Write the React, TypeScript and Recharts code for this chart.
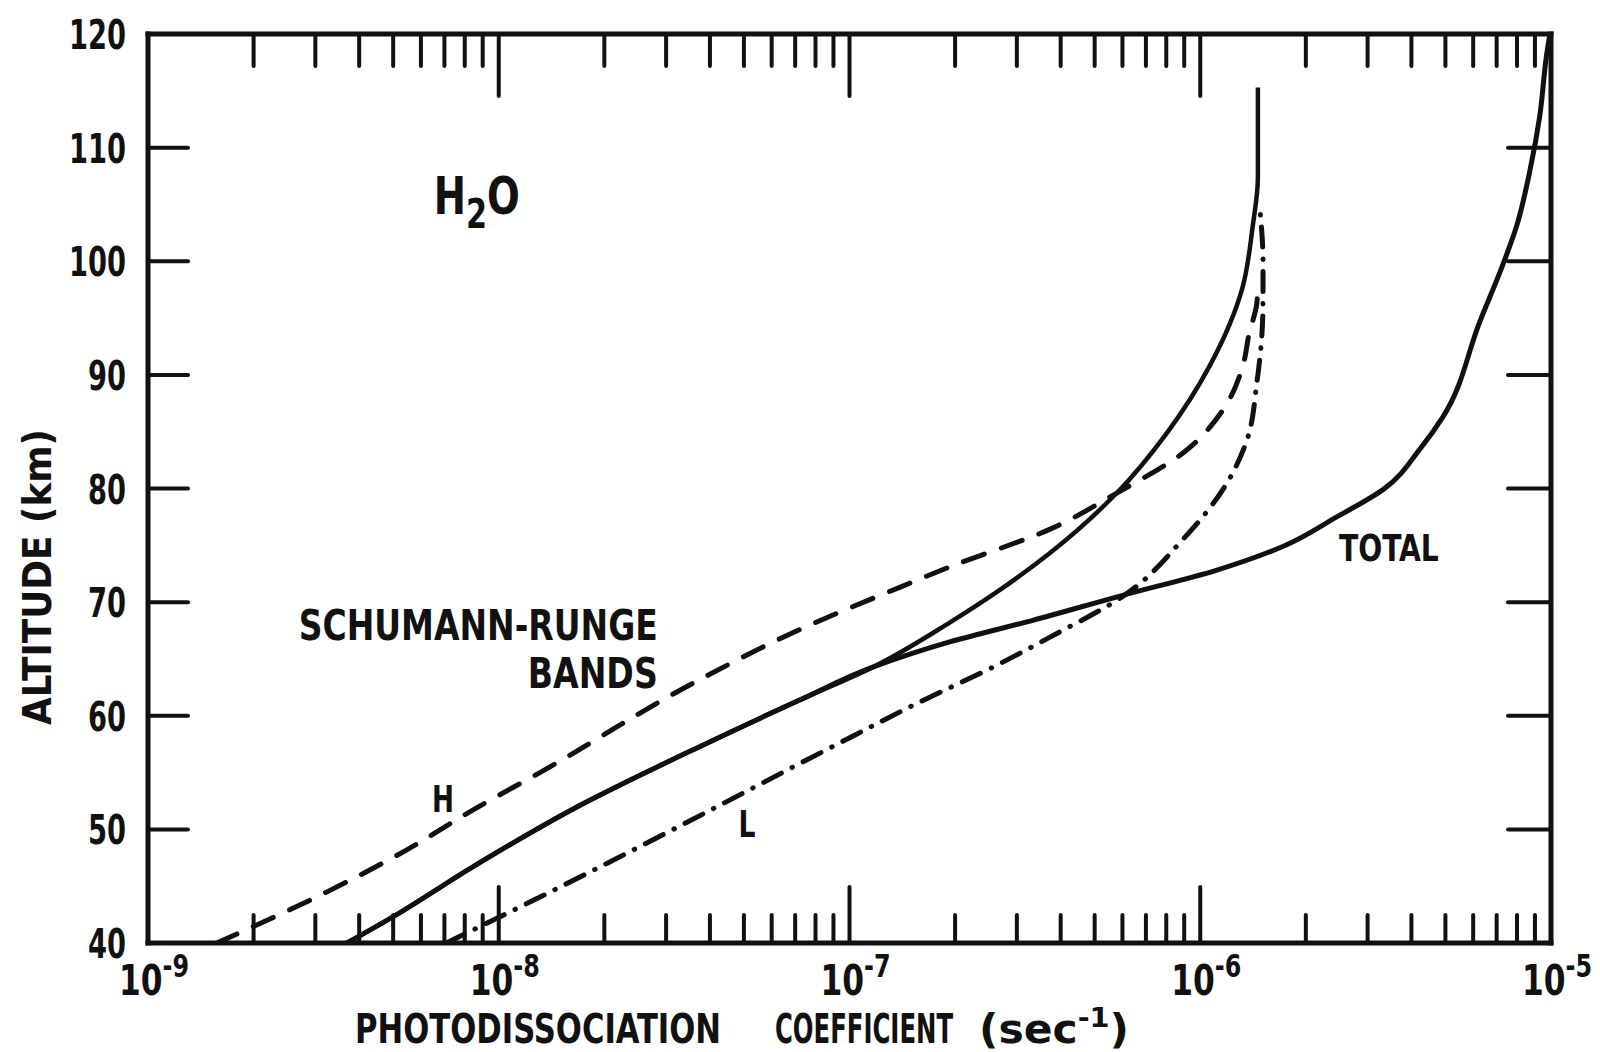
import React from 'react';
import { LineChart, Line, XAxis, YAxis, ReferenceDot } from 'recharts';

const FONT = "'DejaVu Sans Condensed', 'DejaVu Sans', 'Liberation Sans', sans-serif";
const INK = '#111';

// axis ticks
const decadeValues = [1e-9, 1e-8, 1e-7, 1e-6, 1e-5];
const decadeExponentLabels = ['-9', '-8', '-7', '-6', '-5'];
const minorMultipliers = [2, 3, 4, 5, 6, 7, 8, 9];
const altitudeTicks = [40, 50, 60, 70, 80, 90, 100, 110, 120];

// photodissociation coefficient (sec^-1) versus altitude (km)
// solid curve shared by Schumann-Runge bands and total below the split
const sharedLower = [
  { alt: 40, k: 3.69e-9 },
  { alt: 42.3, k: 4.99e-9 },
  { alt: 46.7, k: 8.43e-9 },
  { alt: 51.8, k: 1.63e-8 },
  { alt: 57.3, k: 3.75e-8 },
  { alt: 61.4, k: 7.23e-8 },
  { alt: 64.3, k: 1.17e-7 },
];
const schumannRungeUpper = [
  { alt: 68.2, k: 1.93e-7 },
  { alt: 71.1, k: 2.69e-7 },
  { alt: 74.3, k: 3.72e-7 },
  { alt: 79.6, k: 5.78e-7 },
  { alt: 84.9, k: 8.04e-7 },
  { alt: 90.7, k: 1.06e-6 },
  { alt: 97.7, k: 1.32e-6 },
  { alt: 103.0, k: 1.41e-6 },
  { alt: 107.4, k: 1.46e-6 },
  { alt: 115.3, k: 1.46e-6 },
];
const totalUpper = [
  { alt: 66.5, k: 1.93e-7 },
  { alt: 68.4, k: 3.33e-7 },
  { alt: 70.6, k: 6.01e-7 },
  { alt: 72.8, k: 1.11e-6 },
  { alt: 74.9, k: 1.72e-6 },
  { alt: 77.5, k: 2.45e-6 },
  { alt: 79.9, k: 3.32e-6 },
  { alt: 83.6, k: 4.26e-6 },
  { alt: 86.3, k: 4.92e-6 },
  { alt: 94.7, k: 6.27e-6 },
  { alt: 99.7, k: 7.29e-6 },
  { alt: 103.1, k: 7.98e-6 },
  { alt: 108.0, k: 8.71e-6 },
  { alt: 112.8, k: 9.29e-6 },
  { alt: 118.2, k: 9.72e-6 },
  { alt: 120.0, k: 9.93e-6 },
];
const highCurve = [
  { alt: 40, k: 1.57e-9 },
  { alt: 44.5, k: 3.24e-9 },
  { alt: 48.2, k: 5.47e-9 },
  { alt: 51.7, k: 8.43e-9 },
  { alt: 55.0, k: 1.31e-8 },
  { alt: 63.2, k: 3.75e-8 },
  { alt: 67.6, k: 7.23e-8 },
  { alt: 71.3, k: 1.39e-7 },
  { alt: 73.1, k: 1.93e-7 },
  { alt: 76.4, k: 3.72e-7 },
  { alt: 79.6, k: 5.78e-7 },
  { alt: 83.1, k: 8.91e-7 },
  { alt: 86.9, k: 1.16e-6 },
  { alt: 90.7, k: 1.32e-6 },
  { alt: 93.7, k: 1.38e-6 },
  { alt: 96.3, k: 1.45e-6 },
  { alt: 98.0, k: 1.46e-6 },
];
const lowCurve = [
  { alt: 40, k: 7.08e-9 },
  { alt: 44.9, k: 1.49e-8 },
  { alt: 48.5, k: 2.53e-8 },
  { alt: 57.3, k: 8.97e-8 },
  { alt: 61.1, k: 1.56e-7 },
  { alt: 64.6, k: 2.69e-7 },
  { alt: 66.9, k: 3.72e-7 },
  { alt: 70.5, k: 6.01e-7 },
  { alt: 75.5, k: 8.91e-7 },
  { alt: 79.9, k: 1.16e-6 },
  { alt: 84.3, k: 1.36e-6 },
  { alt: 89.3, k: 1.45e-6 },
  { alt: 93.7, k: 1.5e-6 },
  { alt: 96.6, k: 1.51e-6 },
  { alt: 100.0, k: 1.51e-6 },
  { alt: 104.5, k: 1.48e-6 },
];

const schumannRungeData = [...sharedLower, ...schumannRungeUpper];
const totalData = [...sharedLower, ...totalUpper];

const xTicks = [
  ...decadeValues,
  ...decadeValues.slice(0, decadeValues.length - 1).flatMap((d) => minorMultipliers.map((m) => d * m)),
].sort((a, b) => a - b);

const decadeIndex = (v: number) => decadeValues.findIndex((d) => Math.abs(Math.log10(v / d)) < 1e-6);
const isInnerX = (v: number) => v > decadeValues[0] * 1.01 && v < decadeValues[decadeValues.length - 1] * 0.99;

const BottomTick = (props: any) => {
  const { x, y, payload } = props;
  const v = payload.value;
  const di = decadeIndex(v);
  return (
    <g>
      {isInnerX(v) && (
        <line x1={x} x2={x} y1={y} y2={y - (di >= 0 ? 56 : 28)} stroke={INK} strokeWidth={4} strokeLinecap="round" />
      )}
      {di >= 0 && (
        <text
          x={x + 6}
          y={y + 52}
          textAnchor="middle"
          fontFamily={FONT}
          fontWeight="bold"
          fontSize={42}
          fill={INK}
          textLength={70}
          lengthAdjust="spacingAndGlyphs"
        >
          10
          <tspan dy={-18} fontSize={32}>
            {decadeExponentLabels[di]}
          </tspan>
        </text>
      )}
    </g>
  );
};

const TopTick = (props: any) => {
  const { x, y, payload } = props;
  const v = payload.value;
  const di = decadeIndex(v);
  if (!isInnerX(v)) return <g />;
  return <line x1={x} x2={x} y1={y} y2={y + (di >= 0 ? 62 : 32)} stroke={INK} strokeWidth={4} strokeLinecap="round" />;
};

const LeftTick = (props: any) => {
  const { x, y, payload } = props;
  const v = payload.value;
  const label = String(v);
  const inner = v > altitudeTicks[0] && v < altitudeTicks[altitudeTicks.length - 1];
  return (
    <g>
      {inner && <line x1={x} x2={x + 40} y1={y} y2={y} stroke={INK} strokeWidth={4} strokeLinecap="round" />}
      <text
        x={x - 22}
        y={y + 15}
        textAnchor="end"
        fontFamily={FONT}
        fontWeight="bold"
        fontSize={41}
        fill={INK}
        textLength={19 * label.length}
        lengthAdjust="spacingAndGlyphs"
      >
        {label}
      </text>
    </g>
  );
};

const RightTick = (props: any) => {
  const { x, y, payload } = props;
  const v = payload.value;
  const inner = v > altitudeTicks[0] && v < altitudeTicks[altitudeTicks.length - 1];
  if (!inner) return <g />;
  return <line x1={x} x2={x - 43} y1={y} y2={y} stroke={INK} strokeWidth={4} strokeLinecap="round" />;
};

const YTitle = (p: any) => {
  const vb = p.viewBox || { x: 0, y: 0 };
  const cx = vb.x + 37;
  const cy = vb.y + 543;
  return (
    <text
      x={cx}
      y={cy}
      transform={`rotate(-90 ${cx} ${cy})`}
      textAnchor="middle"
      dominantBaseline="central"
      fontFamily={FONT}
      fontWeight="bold"
      fontSize={39}
      fill={INK}
      textLength={296}
      lengthAdjust="spacingAndGlyphs"
    >
      ALTITUDE  (km)
    </text>
  );
};

const XTitle = (p: any) => {
  const vb = p.viewBox || { x: 0, y: 0 };
  const x0 = vb.x + 207;
  const y0 = vb.y + 100;
  const common = { y: y0, fontFamily: FONT, fontWeight: 'bold' as const, fontSize: 40, fill: INK, lengthAdjust: 'spacingAndGlyphs' };
  return (
    <g>
      <text x={x0} textLength={366} {...common}>PHOTODISSOCIATION</text>
      <text x={x0 + 420} textLength={178} {...common}>COEFFICIENT</text>
      <text x={x0 + 624} textLength={150} {...common}>
        (sec
        <tspan dy={-16} fontSize={27}>-1</tspan>
        <tspan dy={16}>)</tspan>
      </text>
    </g>
  );
};

const textAt = (render: (x: number, y: number) => React.ReactNode) => ({
  content: (p: any) => {
    const vb = p.viewBox || {};
    return render((vb.x ?? 0) + (vb.width ?? 0) / 2, (vb.y ?? 0) + (vb.height ?? 0) / 2);
  },
});

export default function App() {
  return (
    <div style={{ position: 'absolute', left: 0, top: 0, width: 1600, height: 1052, background: '#fff', overflow: 'hidden' }}>
      <LineChart width={1600} height={1052} margin={{ top: 0, right: 0, bottom: 0, left: 0 }}>
        <XAxis
          xAxisId="bottom"
          orientation="bottom"
          dataKey="k"
          type="number"
          scale="log"
          domain={[decadeValues[0], decadeValues[decadeValues.length - 1]]}
          allowDataOverflow
          ticks={xTicks}
          interval={0}
          height={109}
          tickSize={0}
          tickMargin={0}
          tickLine={false}
          tick={<BottomTick />}
          axisLine={{ stroke: INK, strokeWidth: 5, strokeLinecap: 'square' }}
          label={{ content: XTitle }}
        />
        <XAxis
          xAxisId="top"
          orientation="top"
          dataKey="k"
          type="number"
          scale="log"
          domain={[decadeValues[0], decadeValues[decadeValues.length - 1]]}
          allowDataOverflow
          ticks={xTicks}
          interval={0}
          height={34}
          tickSize={0}
          tickMargin={0}
          tickLine={false}
          tick={<TopTick />}
          axisLine={{ stroke: INK, strokeWidth: 5, strokeLinecap: 'square' }}
        />
        <YAxis
          yAxisId="left"
          orientation="left"
          dataKey="alt"
          type="number"
          domain={[altitudeTicks[0], altitudeTicks[altitudeTicks.length - 1]]}
          allowDataOverflow
          ticks={altitudeTicks}
          interval={0}
          width={148}
          tickSize={0}
          tickMargin={0}
          tickLine={false}
          tick={<LeftTick />}
          axisLine={{ stroke: INK, strokeWidth: 5, strokeLinecap: 'square' }}
          label={{ content: YTitle }}
        />
        <YAxis
          yAxisId="right"
          orientation="right"
          dataKey="alt"
          type="number"
          domain={[altitudeTicks[0], altitudeTicks[altitudeTicks.length - 1]]}
          allowDataOverflow
          ticks={altitudeTicks}
          interval={0}
          width={49}
          tickSize={0}
          tickMargin={0}
          tickLine={false}
          tick={<RightTick />}
          axisLine={{ stroke: INK, strokeWidth: 5, strokeLinecap: 'square' }}
        />

        <Line
          xAxisId="bottom"
          yAxisId="left"
          data={highCurve}
          dataKey="alt"
          type="monotoneY"
          stroke={INK}
          strokeWidth={5}
          strokeDasharray="22 18"
          strokeLinecap="round"
          dot={false}
          activeDot={false}
          isAnimationActive={false}
        />
        <Line
          xAxisId="bottom"
          yAxisId="left"
          data={lowCurve}
          dataKey="alt"
          type="monotoneY"
          stroke={INK}
          strokeWidth={5}
          strokeDasharray="20 12 0.5 12"
          strokeLinecap="round"
          dot={false}
          activeDot={false}
          isAnimationActive={false}
        />
        <Line
          xAxisId="bottom"
          yAxisId="left"
          data={schumannRungeData}
          dataKey="alt"
          type="monotoneY"
          stroke={INK}
          strokeWidth={4.5}
          dot={false}
          activeDot={false}
          isAnimationActive={false}
        />
        <Line
          xAxisId="bottom"
          yAxisId="left"
          data={totalData}
          dataKey="alt"
          type="monotoneY"
          stroke={INK}
          strokeWidth={5}
          dot={false}
          activeDot={false}
          isAnimationActive={false}
        />

        <ReferenceDot
          xAxisId="bottom"
          yAxisId="left"
          x={6.53e-9}
          y={104.2}
          r={0}
          ifOverflow="visible"
          label={textAt((x, y) => (
            <text
              x={x}
              y={y}
              fontFamily={FONT}
              fontWeight="bold"
              fontSize={51}
              fill={INK}
              textLength={86}
              lengthAdjust="spacingAndGlyphs"
            >
              H
              <tspan dy={14} fontSize={40}>2</tspan>
              <tspan dy={-14}>O</tspan>
            </text>
          ))}
        />
        <ReferenceDot
          xAxisId="bottom"
          yAxisId="left"
          x={2.84e-8}
          y={66.7}
          r={0}
          ifOverflow="visible"
          label={textAt((x, y) => (
            <text
              x={x}
              y={y}
              textAnchor="end"
              fontFamily={FONT}
              fontWeight="bold"
              fontSize={43}
              fill={INK}
              textLength={359}
              lengthAdjust="spacingAndGlyphs"
            >
              SCHUMANN-RUNGE
            </text>
          ))}
        />
        <ReferenceDot
          xAxisId="bottom"
          yAxisId="left"
          x={2.84e-8}
          y={62.4}
          r={0}
          ifOverflow="visible"
          label={textAt((x, y) => (
            <text
              x={x}
              y={y}
              textAnchor="end"
              fontFamily={FONT}
              fontWeight="bold"
              fontSize={43}
              fill={INK}
              textLength={130}
              lengthAdjust="spacingAndGlyphs"
            >
              BANDS
            </text>
          ))}
        />
        <ReferenceDot
          xAxisId="bottom"
          yAxisId="left"
          x={6.93e-9}
          y={51.5}
          r={0}
          ifOverflow="visible"
          label={textAt((x, y) => (
            <text x={x} y={y} textAnchor="middle" fontFamily={FONT} fontWeight="bold" fontSize={37} fill={INK} textLength={22} lengthAdjust="spacingAndGlyphs">
              H
            </text>
          ))}
        />
        <ReferenceDot
          xAxisId="bottom"
          yAxisId="left"
          x={5.1e-8}
          y={49.3}
          r={0}
          ifOverflow="visible"
          label={textAt((x, y) => (
            <text x={x} y={y} textAnchor="middle" fontFamily={FONT} fontWeight="bold" fontSize={37} fill={INK} textLength={17} lengthAdjust="spacingAndGlyphs">
              L
            </text>
          ))}
        />
        <ReferenceDot
          xAxisId="bottom"
          yAxisId="left"
          x={3.45e-6}
          y={73.6}
          r={0}
          ifOverflow="visible"
          label={textAt((x, y) => (
            <text x={x} y={y} textAnchor="middle" fontFamily={FONT} fontWeight="bold" fontSize={37} fill={INK} textLength={100} lengthAdjust="spacingAndGlyphs">
              TOTAL
            </text>
          ))}
        />
      </LineChart>
    </div>
  );
}
